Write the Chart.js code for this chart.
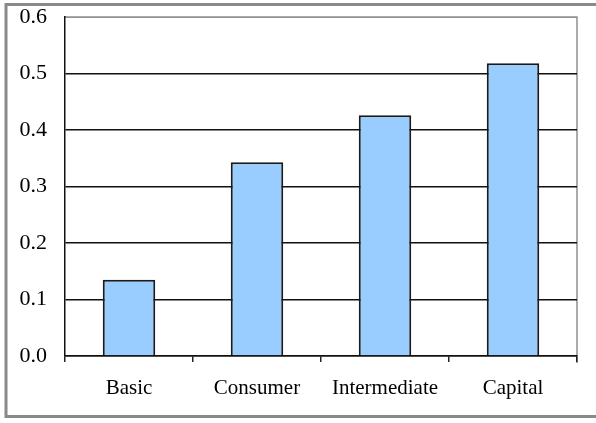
<!DOCTYPE html>
<html>
<head>
<meta charset="utf-8">
<script src="https://cdn.jsdelivr.net/npm/chart.js@4"></script>
<style>
  html, body { margin: 0; padding: 0; background: #fff; }
  #wrap { position: relative; width: 596px; height: 423px; }
</style>
</head>
<body>
<div id="wrap"><canvas id="myChart" width="596" height="423"></canvas></div>
<script>
var categories = ["Basic", "Consumer", "Intermediate", "Capital"];
var shares = [0.135, 0.343, 0.426, 0.518];
var yTicks = [0.0, 0.1, 0.2, 0.3, 0.4, 0.5, 0.6];

// gray frame round the whole picture plus the thin plot box
var frame = {
  id: 'frame',
  beforeDraw: function (chart) {
    var ctx = chart.ctx, a = chart.chartArea;
    ctx.save();
    ctx.strokeStyle = '#8a8a8a';
    ctx.lineWidth = 3;
    ctx.beginPath();
    ctx.moveTo(6, 418);
    ctx.lineTo(6, 4.5);
    ctx.lineTo(596, 4.5);
    ctx.moveTo(6, 416.5);
    ctx.lineTo(596, 416.5);
    ctx.stroke();
    ctx.strokeStyle = '#909090';
    ctx.lineWidth = 1.5;
    ctx.beginPath();
    ctx.moveTo(a.left, a.top);
    ctx.lineTo(a.right, a.top);
    ctx.lineTo(a.right, a.bottom + 7);
    ctx.stroke();
    ctx.restore();
  }
};

var serif = "'Liberation Serif', 'DejaVu Serif', serif";

new Chart("myChart", {
  type: "bar",
  data: {
    labels: categories,
    datasets: [{
      data: shares,
      backgroundColor: "#99ccff",
      borderColor: "#1a1a1a",
      borderWidth: 2,
      borderSkipped: 'bottom',
      barPercentage: 0.41,
      categoryPercentage: 1.0
    }]
  },
  options: {
    responsive: false,
    animation: false,
    events: [],
    layout: { padding: { left: 0, top: 17, right: 19, bottom: 0 } },
    plugins: { legend: { display: false }, tooltip: { enabled: false } },
    scales: {
      x: {
        grid: {
          offset: true,
          drawOnChartArea: false,
          drawTicks: true,
          tickLength: 6,
          color: "#222",
          lineWidth: 1.5
        },
        border: { display: true, color: "#111", width: 1.5 },
        ticks: {
          padding: 14,
          maxRotation: 0,
          autoSkip: false,
          color: "#000",
          font: { family: serif, size: 21 }
        },
        afterFit: function (scale) {
          scale.height = 67;
          scale.paddingLeft = 0;
          scale.paddingRight = 0;
        }
      },
      y: {
        min: 0,
        max: 0.6,
        afterBuildTicks: function (scale) {
          scale.ticks = yTicks.map(function (v) { return { value: v }; });
        },
        grid: {
          drawTicks: false,
          color: function (c) { return c.tick && c.tick.value >= 0.6 ? "#909090" : "#111"; },
          lineWidth: function (c) { return c.tick && c.tick.value >= 0.6 ? 1 : 1.5; }
        },
        border: { display: true, color: "#111", width: 1.5 },
        ticks: {
          padding: 18,
          color: "#000",
          font: { family: serif, size: 22 },
          callback: function (v) { return Number(v).toFixed(1); }
        },
        afterFit: function (scale) {
          scale.width = 65;
          scale.paddingTop = 0;
          scale.paddingBottom = 0;
        }
      }
    }
  },
  plugins: [frame]
});
</script>
</body>
</html>
